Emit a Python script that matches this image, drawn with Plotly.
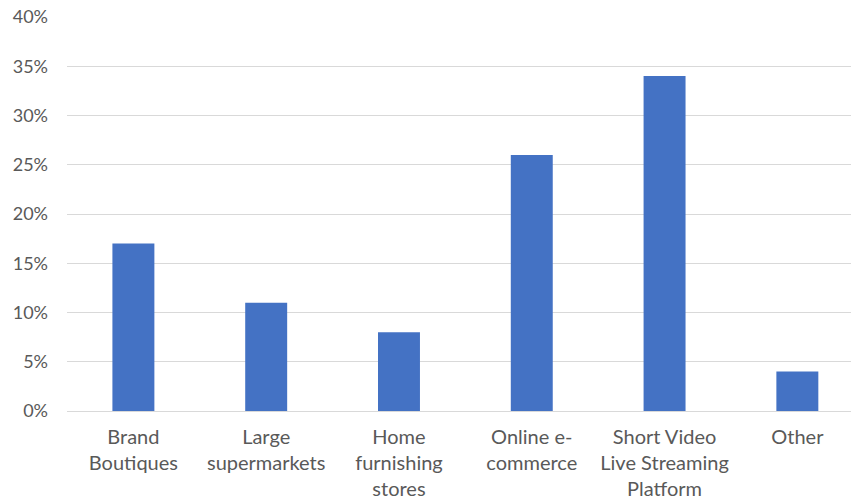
import plotly.graph_objects as go

categories = ["Brand<br>Boutiques", "Large<br>supermarkets", "Home<br>furnishing<br>stores",
              "Online e-<br>commerce", "Short Video<br>Live Streaming<br>Platform", "Other"]
values = [0.17, 0.11, 0.08, 0.26, 0.34, 0.04]
y_ticks = [0, 0.05, 0.10, 0.15, 0.20, 0.25, 0.30, 0.35, 0.40]

fig = go.Figure(go.Bar(x=list(range(len(categories))), y=values, marker_color="#4472C4",
                       marker_line_width=0))

fig.update_layout(
    width=851, height=502,
    margin=dict(l=67, r=0, t=17, b=91),
    paper_bgcolor="white", plot_bgcolor="white",
    bargap=0.684, showlegend=False,
    font=dict(family="Lato", size=18, color="#595959"),
)
fig.update_xaxes(tickmode="array", tickvals=list(range(len(categories))), ticktext=categories,
                 range=[-0.5, 5.404], showgrid=False, zeroline=False, showline=False,
                 ticks="", ticklabelstandoff=12, tickangle=0, tickfont=dict(size=20))
fig.update_yaxes(range=[0, 0.40], tickvals=y_ticks, tickformat=".0%",
                 showgrid=True, gridcolor="#D9D9D9", gridwidth=1,
                 zeroline=True, zerolinecolor="#D9D9D9", zerolinewidth=1,
                 showline=False, ticks="", ticklabelstandoff=18)
fig.write_html("out.html")
